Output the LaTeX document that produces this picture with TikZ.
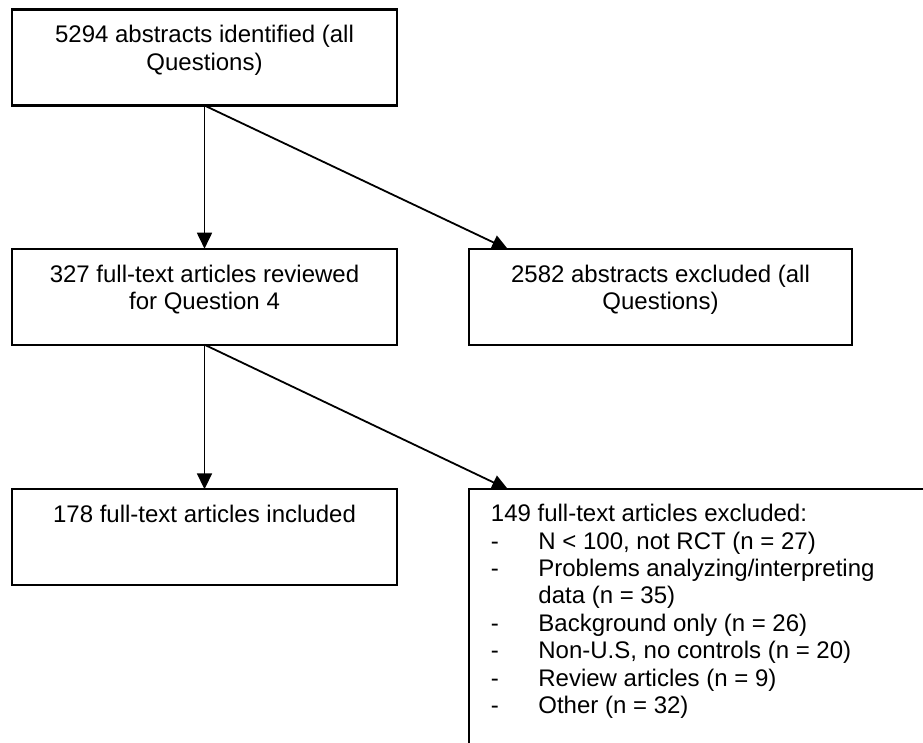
\documentclass[tikz,border=0pt]{standalone}
\usepackage{fontspec}
\setmainfont{Liberation Sans}
\usetikzlibrary{arrows.meta}
\begin{document}
\begin{tikzpicture}[x=1pt,y=-1pt,
  box/.style={draw, line width=2.2pt, minimum width=385pt, minimum height=96pt, inner sep=0pt, outer sep=0pt, anchor=north west},
  txt/.style={font=\fontsize{24}{27.4}\selectfont, inner sep=0pt, anchor=base},
  arr/.style={line width=1.8pt, -{Triangle[length=16pt,width=15pt]}}]
\fill[white] (0,0) rectangle (923,742);
\clip (0,0) rectangle (923,742);
% boxes
\node[box] (b1) at (12,9.5) {};
\node[box] (b2) at (12,248.7) {};
\node[box, minimum width=383pt] (b3) at (469,249.3) {};
\node[box] (b4) at (12,489.3) {};
\node[box, minimum width=600pt, minimum height=400pt] (b5) at (469,489.3) {};
% texts
\node[txt] (b1t) at ([yshift=-33.2pt]b1.north) {\begin{tabular}[t]{@{}c@{}}5294 abstracts identified (all\\Questions)\end{tabular}};
\node[txt] (b2t) at ([yshift=-33.8pt]b2.north) {\begin{tabular}[t]{@{}c@{}}327 full-text articles reviewed\\for Question 4\end{tabular}};
\node[txt] (b3t) at ([yshift=-33.2pt]b3.north) {\begin{tabular}[t]{@{}c@{}}2582 abstracts excluded (all\\Questions)\end{tabular}};
\node[txt] (b4t) at ([yshift=-33pt]b4.north) {178 full-text articles included};
\node[txt, anchor=base west] (b5t) at (490.7,521.7) {\begin{tabular}[t]{@{}l@{}}
149 full-text articles excluded:\\
\makebox[47.5pt][l]{-}N < 100, not RCT (n = 27)\\
\makebox[47.5pt][l]{-}Problems analyzing/interpreting\\
\makebox[47.5pt][l]{}data (n = 35)\\
\makebox[47.5pt][l]{-}Background only (n = 26)\\
\makebox[47.5pt][l]{-}Non-U.S, no controls (n = 20)\\
\makebox[47.5pt][l]{-}Review articles (n = 9)\\
\makebox[47.5pt][l]{-}Other (n = 32)
\end{tabular}};
% connectors
\coordinate (t3) at ([xshift=39pt]b3.north west);
\coordinate (t5) at ([xshift=39pt]b5.north west);
\draw[arr] (b1.south) -- (b2.north);
\draw[arr] (b1.south) -- (t3);
\draw[arr] (b2.south) -- (b4.north);
\draw[arr] (b2.south) -- (t5);
\end{tikzpicture}
\end{document}
